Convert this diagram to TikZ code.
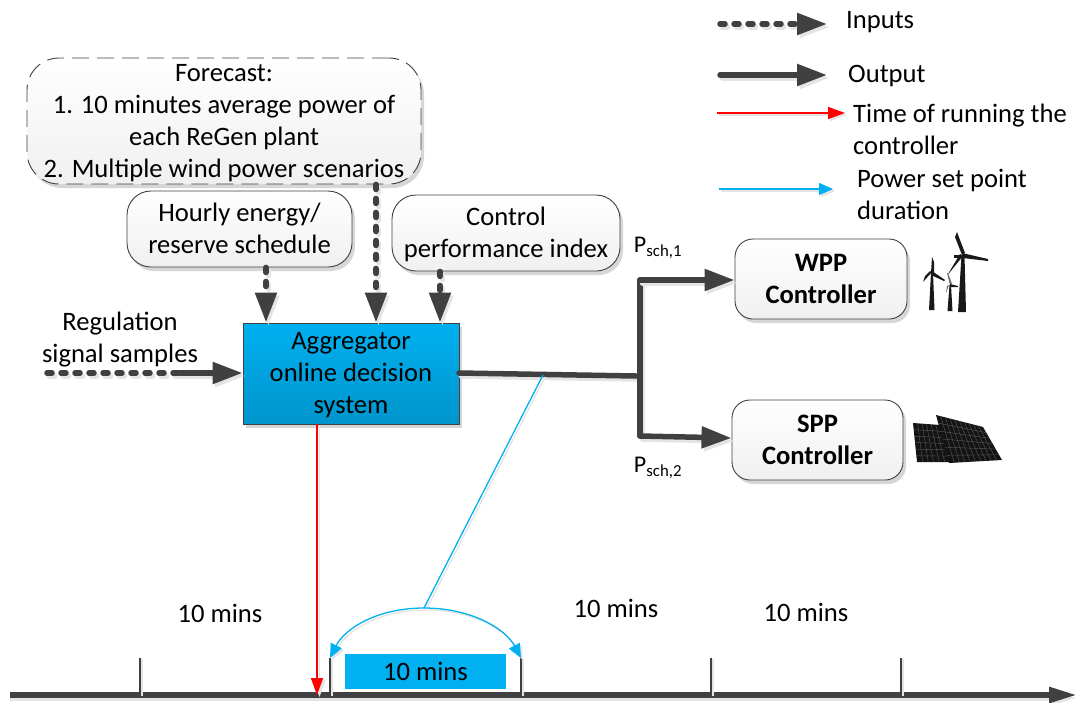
\documentclass[tikz,border=0pt]{standalone}
\usepackage{fontspec}
\setmainfont{Carlito}
\usetikzlibrary{arrows.meta,calc,shadows}
\definecolor{dk}{HTML}{404040}
\definecolor{sky}{HTML}{00B0F0}
\definecolor{skyd}{HTML}{0095CC}
\definecolor{shad}{HTML}{E4E4E4}
\newcommand\tp{\rule{0pt}{23pt}}
\newcommand\bt{\rule[-7pt]{0pt}{7pt}}
% draws a path twice: soft grey copy (offset) underneath, then the line itself
\newcommand\shadowed[3]{%
  \begin{scope}[transform canvas={shift={(#1)}}]\draw[#2,draw=shad,color=shad] #3;\end{scope}%
  \draw[#2] #3;}
\tikzset{
  lbl/.style={font=\fontsize{26.6}{32}\selectfont,align=center,inner sep=0pt},
  lbll/.style={font=\fontsize{26.6}{32}\selectfont,align=left,anchor=west,inner sep=0pt},
  softshadow/.style={drop shadow={opacity=.16,shadow xshift=3pt,shadow yshift=-4pt,fill=black}},
  softbox/.style={lbl,draw=dk,line width=.9pt,rounded corners=#1,top color=white,bottom color=black!6,softshadow},
  bigtip/.style={-{Triangle[length=30pt,width=21pt]}},
  outl/.style={draw=dk,line width=5.5pt,line cap=round},
  inl/.style={outl,dash pattern=on 5pt off 9pt},
  redl/.style={draw=red,line width=1.6pt,-{Triangle[length=17pt,width=12pt]}},
  bluel/.style={draw=sky,line width=1.3pt},
  bluetip/.style={-{Triangle[length=14pt,width=12pt]}},
  tickl/.style={draw=dk,line width=1.3pt},
}
\begin{document}
\begin{tikzpicture}[x=1pt,y=-1pt]
\useasboundingbox (0,0) rectangle (1085,702);

% boxes
\node[softbox=32pt,dashed,dash pattern=on 17pt off 8pt,minimum width=394pt,minimum height=126pt] (fc) at (224,121)
  {\tp Forecast:\\1. 10 minutes average power of\\each ReGen plant\\2. Multiple wind power scenarios\bt};
\node[softbox=24pt,minimum width=225pt,minimum height=76pt] (hr) at (239.5,229) {\tp Hourly energy/\\reserve schedule\bt};
\node[softbox=24pt,minimum width=228pt,minimum height=76pt] (cp) at (506,233) {\tp Control\\performance index\bt};
\node[lbl,draw=dk,line width=.9pt,top color=sky,bottom color=skyd,softshadow,minimum width=216pt,minimum height=101pt] (agg) at (351,373.5)
  {\tp Aggregator\\online decision\\system\bt};
\node[softbox=18pt,minimum width=172pt,minimum height=80pt,font=\fontsize{26.6}{32}\selectfont\bfseries] (wpp) at (821,279) {\tp WPP\\Controller\bt};
\node[softbox=18pt,minimum width=171pt,minimum height=80pt,font=\fontsize{26.6}{32}\selectfont\bfseries] (spp) at (817.5,440) {\tp SPP\\Controller\bt};

% free labels
\node[lbl] (reg) at (120,338) {\tp Regulation\\signal samples\bt};
\node[inner sep=0pt,font=\fontsize{24}{28}\selectfont] (p1) at (658,248) {P\textsubscript{sch,1}};
\node[inner sep=0pt,font=\fontsize{24}{28}\selectfont] (p2) at (658,468) {P\textsubscript{sch,2}};
\node[lbl] (m1) at (220,613) {10 mins};
\node[lbl] (m3) at (616,608) {10 mins};
\node[lbl] (m4) at (806,612) {10 mins};
\node[lbl,fill=sky,minimum width=161pt,minimum height=35pt] (m2) at (425.5,671.5) {10 mins};

% inputs
\coordinate (hx) at (266,300);
\coordinate (fx) at (376,300);
\coordinate (cx) at (440,300);
\shadowed{2.5pt,-3pt}{inl,bigtip}{(hx |- hr.south) -- (hx |- agg.north)}
\shadowed{2.5pt,-3pt}{inl,bigtip}{(fx |- fc.south) -- (fx |- agg.north)}
\shadowed{2.5pt,-3pt}{inl,bigtip}{(cx |- cp.south) -- (cx |- agg.north)}
\coordinate (rs) at (47,373);
\coordinate (rm) at (180,373);
\shadowed{2.5pt,-3pt}{inl}{(rs) -- (rm)}
\shadowed{2.5pt,-3pt}{outl,bigtip}{(rm) -- (agg.west |- rm)}

% outputs
\coordinate (ao) at (459,373);
\coordinate (bj) at (636,376);
\coordinate (bt) at (640,280);
\coordinate (bb) at (640,436);
\coordinate (sw) at (700,438);
\shadowed{2.5pt,-3pt}{outl}{(ao) -- (bj)}
\shadowed{2.5pt,-3pt}{outl}{(bt) -- (bb)}
\shadowed{2.5pt,-3pt}{outl,bigtip}{(bt) -- (wpp.west |- bt)}
\shadowed{2.5pt,-3pt}{outl,bigtip}{(bb) -- (spp.west |- sw)}

% time axis
\coordinate (tl) at (10,695);
\coordinate (tr) at (1077,695);
\shadowed{0pt,-3pt}{outl,line cap=butt,-{Triangle[length=28pt,width=15pt]}}{(tl) -- (tr)}
\foreach \n/\x in {a/140,b/330,c/521,d/711,e/901}{
  \coordinate (t\n) at (\x,658);
  \shadowed{2pt,-1pt}{tickl}{(t\n) -- (t\n |- tl)}
}
% red link
\coordinate (rx) at (317,400);
\shadowed{2.5pt,-2pt}{redl}{(rx |- agg.south) -- (rx |- tl)}

% blue links
\coordinate (bs) at (543,375);
\coordinate (bm) at (424,608);
\shadowed{2pt,-2pt}{bluel}{(bs) -- (bm)}
\shadowed{2pt,-2pt}{bluel,bluetip}{(bm) .. controls (378,608) and (345,628) .. (tb)}
\shadowed{2pt,-2pt}{bluel,bluetip}{(bm) .. controls (470,608) and (505,628) .. (tc)}

% legend
\coordinate (l1a) at (720,24); \coordinate (l1b) at (827,24);
\coordinate (l2a) at (720,75); \coordinate (l2b) at (827,75);
\coordinate (l3a) at (717,113); \coordinate (l3b) at (845,113);
\coordinate (l4a) at (719,189); \coordinate (l4b) at (833,189);
\shadowed{2.5pt,-3pt}{inl,bigtip}{(l1a) -- (l1b)}
\shadowed{2.5pt,-3pt}{outl,bigtip}{(l2a) -- (l2b)}
\shadowed{2pt,-2pt}{redl}{(l3a) -- (l3b)}
\shadowed{2pt,-2pt}{bluel,bluetip}{(l4a) -- (l4b)}
\node[lbll] (li) at (846,22) {Inputs};
\node[lbll] (lo) at (848,76) {Output};
\node[lbll] (lt) at (853,129) {Time of running the\\controller};
\node[lbll] (lp) at (857,194) {Power set point\\duration};

% wind turbines
\begin{scope}
  \fill[black!90] (958,312) -- (961.5,255) -- (964.5,255) -- (966,312) -- cycle;
  \fill[black!90] (962,255) -- (955,237) -- (957,232) -- (960,240) -- (965,253) -- cycle;
  \fill[black!90] (962,253) -- (988,259) -- (988,261) -- (963,258) -- cycle;
  \fill[black!90] (963,256) -- (950,272) -- (948,274) -- (960,254) -- cycle;
  \fill[black!90] (954,255) rectangle (968,258);
  \fill[black!90] (929,310) -- (931,273) -- (933,273) -- (934.5,310) -- cycle;
  \fill[black!90] (931,273) -- (932,257) -- (934,262) -- (934,272) -- cycle;
  \fill[black!90] (932,271) -- (945,280) -- (944,281) -- (931,275) -- cycle;
  \fill[black!90] (932,272) -- (923,282) -- (925,276) -- (930,271) -- cycle;
  \fill[black!90] (947.5,311) -- (949.5,285) -- (951,285) -- (952.5,311) -- cycle;
  \fill[black!60] (950,285) -- (947,273) -- (948,273) -- (952,284) -- cycle;
  \fill[black!90] (950,284) -- (958,286) -- (958,287) -- (950,287) -- cycle;
  \fill[black!60] (949,285) -- (946,293) -- (947,286) -- cycle;
\end{scope}

% solar panels
\coordinate (sa) at (913,423);
\coordinate (sb) at (940,425);
\coordinate (sc) at (950,462);
\coordinate (sd) at (917,462);
\fill[black!92] (sa) -- (sb) -- (sc) -- (sd) -- cycle;
\foreach \t in {.17,.34,.5,.67,.84}{
  \draw[black!65,line width=.4pt] ($(sa)!\t!(sb)$) -- ($(sd)!\t!(sc)$);
  \draw[black!65,line width=.4pt] ($(sa)!\t!(sd)$) -- ($(sb)!\t!(sc)$);
}
\coordinate (se) at (936,415);
\coordinate (sf) at (983,427);
\coordinate (sg) at (1002,460);
\coordinate (sh) at (949,463);
\fill[black!92] (se) -- (sf) -- (sg) -- (sh) -- cycle;
\foreach \t in {.1,.2,.3,.4,.5,.6,.7,.8,.9}{
  \draw[black!65,line width=.4pt] ($(se)!\t!(sf)$) -- ($(sh)!\t!(sg)$);
}
\foreach \t in {.17,.34,.5,.67,.84}{
  \draw[black!65,line width=.4pt] ($(se)!\t!(sh)$) -- ($(sf)!\t!(sg)$);
}
\end{tikzpicture}
\end{document}
